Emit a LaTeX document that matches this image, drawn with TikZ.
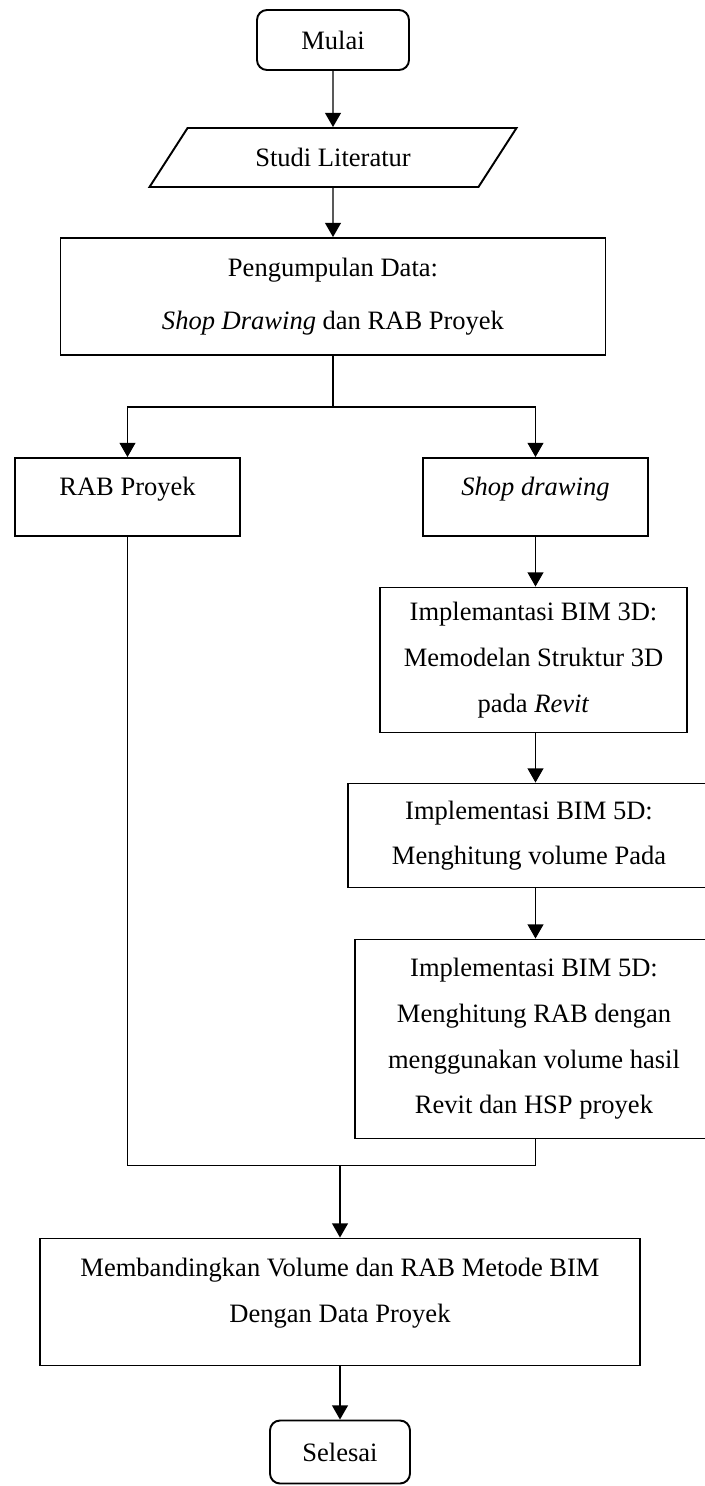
\documentclass[tikz,border=0pt]{standalone}
\usepackage{fontspec}
\setmainfont{Liberation Serif}
\usepackage{tikz}
\usetikzlibrary{shapes.geometric, arrows.meta}
\tikzstyle{terminal} = [rectangle, rounded corners=0.2cm, text centered, draw=black, line width=1.1pt]
\tikzstyle{io} = [trapezium, trapezium left angle=38.6, trapezium right angle=141.4, trapezium stretches body, text centered, draw=black, line width=1.1pt]
\tikzstyle{process} = [rectangle, text centered, align=center, draw=black, line width=1.1pt]
\tikzstyle{arrow} = [line width=0.6pt,-{Triangle[length=8pt,width=9pt]}]
\tikzstyle{line} = [line width=0.6pt]

\begin{document}
\begin{tikzpicture}[node distance=2cm, every node/.style={font=\fontsize{15.1}{26}\selectfont}]
        \useasboundingbox (0,0) rectangle (14.08,-29.72);
        \node (mulai) [terminal, minimum width=3.04cm, minimum height=1.2cm] at (6.66,-0.8) {Mulai};
        \node (studi) [io, node distance=2.35cm, below of=mulai, minimum width=7.34cm, minimum height=1.18cm] {Studi Literatur};
        \node (kumpul) [process, node distance=2.78cm, below of=studi, minimum width=10.9cm, minimum height=2.34cm, font=\fontsize{15.1}{30}\selectfont] {Pengumpulan Data:\\\textit{Shop Drawing} dan RAB Proyek};
        \node (rab) [process, node distance=4.01cm, below of=kumpul, xshift=-4.11cm, minimum width=4.5cm, minimum height=1.56cm, text depth=12.5pt] {RAB Proyek};
        \node (shop) [process, node distance=4.01cm, below of=kumpul, xshift=4.05cm, minimum width=4.5cm, minimum height=1.56cm, text depth=12.5pt] {\textit{Shop drawing}};
        \node (bim3d) [process, node distance=3.26cm, below of=shop, xshift=-0.04cm, minimum width=6.14cm, minimum height=2.9cm] {Implemantasi BIM 3D:\\Memodelan Struktur 3D\\pada \textit{Revit}};
        \node (bim5a) [process, node distance=3.51cm, below of=bim3d, xshift=-0.09cm, minimum width=7.24cm, minimum height=2.08cm] {Implementasi BIM 5D:\\Menghitung volume Pada};
        \node (bim5b) [process, node distance=4.07cm, below of=bim5a, xshift=0.1cm, minimum width=7.16cm, minimum height=3.98cm] {Implementasi BIM 5D:\\Menghitung RAB dengan\\menggunakan volume hasil\\Revit dan HSP proyek};
        \node (banding) [process, node distance=5.26cm, below of=bim5b, xshift=-3.88cm, minimum width=12cm, minimum height=2.54cm, text depth=13.6pt] {Membandingkan Volume dan RAB Metode BIM\\Dengan Data Proyek};
        \node (selesai) [terminal, node distance=3cm, below of=banding, minimum width=2.8cm, minimum height=1.26cm] {Selesai};
        \coordinate [node distance=2.21cm, below of=kumpul] (cabang);
        \coordinate [node distance=2.53cm, below of=bim5b] (gabung);
        \draw [arrow] (mulai) -- (studi);
        \draw [arrow] (studi) -- (kumpul);
        \draw [line] (kumpul) -- (cabang);
        \draw [arrow] (cabang) -| (rab);
        \draw [arrow] (cabang) -| (shop);
        \draw [arrow] (shop) -- (shop |- bim3d.north);
        \draw [arrow] (bim3d.south -| shop) -- (bim5a.north -| shop);
        \draw [arrow] (bim5a.south -| shop) -- (bim5b.north -| shop);
        \draw [line] (rab) |- (gabung -| shop) -- (bim5b.south -| shop);
        \draw [arrow] (gabung -| banding) -- (banding);
        \draw [arrow] (banding) -- (selesai);
      \end{tikzpicture}
\end{document}
